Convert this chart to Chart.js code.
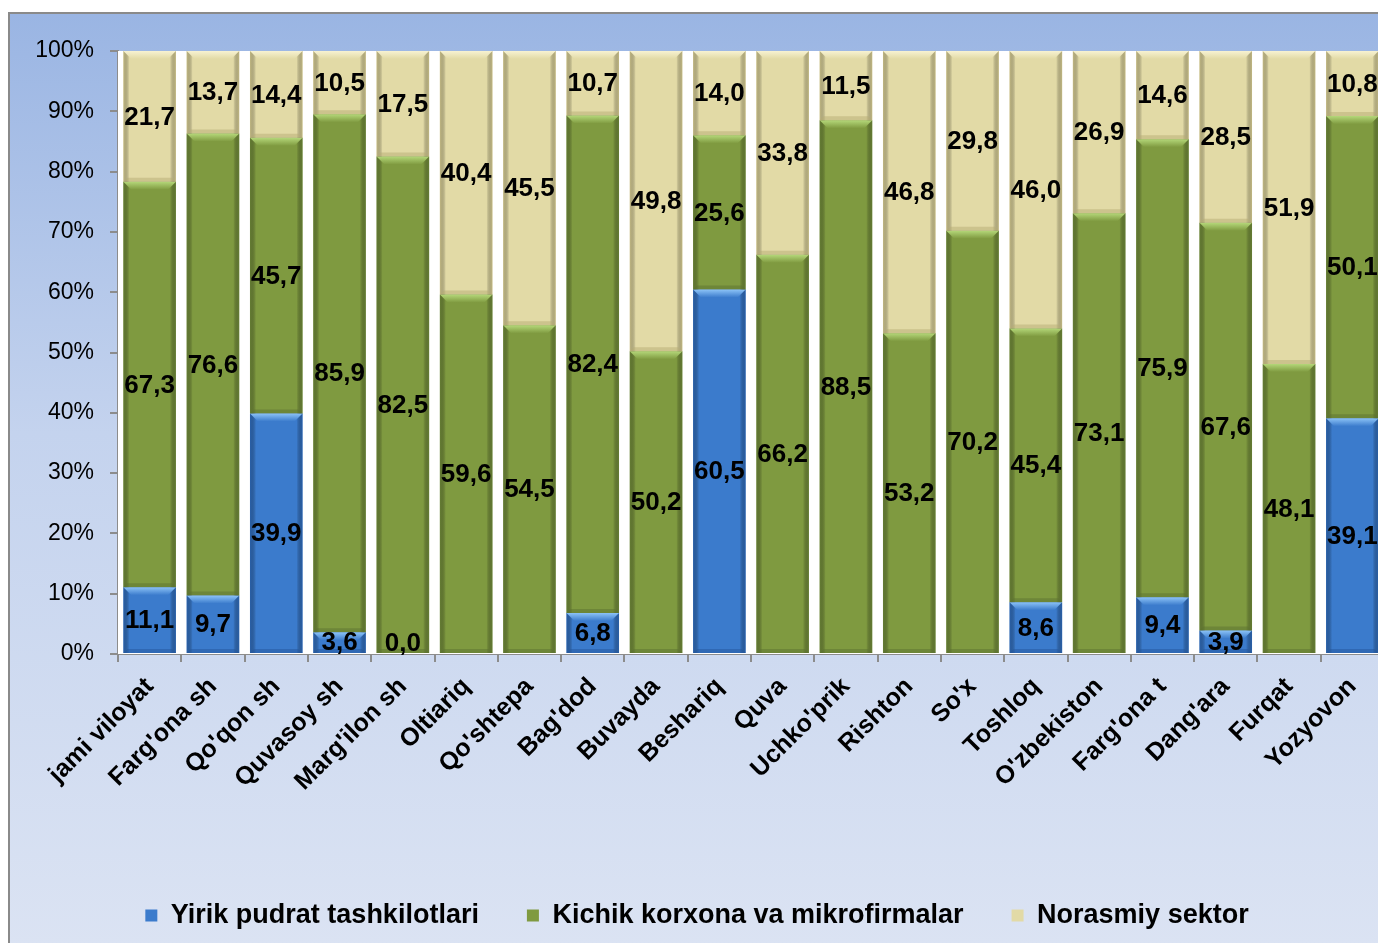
<!DOCTYPE html>
<html>
<head>
<meta charset="utf-8">
<script src="https://cdn.jsdelivr.net/npm/chart.js@4.4.1/dist/chart.umd.min.js"></script>
<style>
  html, body { margin: 0; padding: 0; background: #fff; overflow: hidden; }
  body { width: 1378px; height: 943px; position: relative; }
  .frame {
    position: absolute; left: 8px; top: 12px; width: 1374px; height: 932px;
    border-left: 2px solid #8a8a8a; border-top: 2px solid #8a8a8a;
    background: linear-gradient(to bottom, #9ab5e3 0%, #c4d3ee 45%, #dbe3f3 100%);
  }
  .frame canvas { display: block; }
</style>
</head>
<body>
<div class="frame"><canvas id="chart" width="1374" height="931"></canvas></div>
<script>
// ------------------ Data ------------------
const categories = ["jami viloyat", "Farg'ona sh", "Qo'qon sh", "Quvasoy sh", "Marg'ilon sh", "Oltiariq",
  "Qo'shtepa", "Bag'dod", "Buvayda", "Beshariq", "Quva", "Uchko'prik", "Rishton", "So'x", "Toshloq",
  "O'zbekiston", "Farg'ona t", "Dang'ara", "Furqat", "Yozyovon"];

const yirikPudrat = [11.1, 9.7, 39.9, 3.6, 0.0, null, null, 6.8, null, 60.5, null, null, null, null, 8.6, null, 9.4, 3.9, null, 39.1];
const kichikKorxona = [67.3, 76.6, 45.7, 85.9, 82.5, 59.6, 54.5, 82.4, 50.2, 25.6, 66.2, 88.5, 53.2, 70.2, 45.4, 73.1, 75.9, 67.6, 48.1, 50.1];
const norasmiySektor = [21.7, 13.7, 14.4, 10.5, 17.5, 40.4, 45.5, 10.7, 49.8, 14.0, 33.8, 11.5, 46.8, 29.8, 46.0, 26.9, 14.6, 28.5, 51.9, 10.8];

const seriesNames = ['Yirik pudrat tashkilotlari', 'Kichik korxona va mikrofirmalar', 'Norasmiy sektor'];
const yTicks = [0, 10, 20, 30, 40, 50, 60, 70, 80, 90, 100];

// colours: base, light (top bevel), dark (edges)
const palette = [
  { base: '#3b7bcc', light: '#8cc3f7', dark: '#23569b' },
  { base: '#7f9a40', light: '#b4d779', dark: '#5b7230' },
  { base: '#e2daa6', light: '#f7f2d2', dark: '#b5ab74' }
];

const FONT = "'Liberation Sans', Arial, sans-serif";

// stack each column to 100%
const raw = [yirikPudrat, kichikKorxona, norasmiySektor];
const totals = categories.map((c, i) => raw.reduce((s, arr) => s + (arr[i] || 0), 0));
const shares = raw.map(arr => arr.map((v, i) => v === null ? null : v / totals[i] * 100));

// ------------------ Plugins ------------------
// white plot area
const plotBg = {
  id: 'plotBg',
  beforeDatasetsDraw(chart) {
    const { ctx, chartArea: a } = chart;
    ctx.save();
    ctx.fillStyle = '#ffffff';
    ctx.fillRect(a.left, a.top, a.right - a.left, a.bottom - a.top);
    ctx.restore();
  }
};

// bevel look on every bar segment
const bevel = {
  id: 'bevel',
  afterDatasetsDraw(chart) {
    const ctx = chart.ctx;
    chart.data.datasets.forEach((ds, di) => {
      const col = palette[di];
      chart.getDatasetMeta(di).data.forEach((bar, i) => {
        if (ds.data[i] === null) return;
        const w = bar.width;
        const l = bar.x - w / 2, r = bar.x + w / 2;
        const t = Math.min(bar.y, bar.base), b = Math.max(bar.y, bar.base);
        const h = b - t;
        if (h < 2) return;
        const bv = Math.min(8, h / 2);
        ctx.save();
        // side shading
        let g = ctx.createLinearGradient(l, 0, l + 6, 0);
        g.addColorStop(0, col.dark);
        g.addColorStop(1, 'rgba(0,0,0,0)');
        ctx.globalAlpha = 0.7;
        ctx.fillStyle = g;
        ctx.fillRect(l, t, 6, h);
        g = ctx.createLinearGradient(r - 6, 0, r, 0);
        g.addColorStop(0, 'rgba(0,0,0,0)');
        g.addColorStop(1, col.dark);
        ctx.fillStyle = g;
        ctx.fillRect(r - 6, t, 6, h);
        ctx.globalAlpha = 1;
        // top bevel
        g = ctx.createLinearGradient(0, t, 0, t + bv);
        g.addColorStop(0, col.light);
        g.addColorStop(1, col.base);
        ctx.fillStyle = g;
        ctx.beginPath();
        ctx.moveTo(l, t);
        ctx.lineTo(r, t);
        ctx.lineTo(r - bv, t + bv);
        ctx.lineTo(l + bv, t + bv);
        ctx.closePath();
        ctx.fill();
        // bottom bevel
        const bb = Math.min(4, h / 4);
        ctx.globalAlpha = 0.5;
        ctx.fillStyle = col.dark;
        ctx.beginPath();
        ctx.moveTo(l, b);
        ctx.lineTo(r, b);
        ctx.lineTo(r - bb, b - bb);
        ctx.lineTo(l + bb, b - bb);
        ctx.closePath();
        ctx.fill();
        ctx.restore();
      });
    });
  }
};

// value labels in each segment
const valueLabels = {
  id: 'valueLabels',
  afterDatasetsDraw(chart) {
    const ctx = chart.ctx;
    ctx.save();
    ctx.font = 'bold 26px ' + FONT;
    ctx.fillStyle = '#000';
    ctx.textAlign = 'center';
    ctx.textBaseline = 'middle';
    chart.data.datasets.forEach((ds, di) => {
      chart.getDatasetMeta(di).data.forEach((bar, i) => {
        const v = raw[di][i];
        if (v === null) return;
        let y = (bar.y + bar.base) / 2;
        y = Math.min(y, bar.base - 11);
        ctx.fillText(v.toFixed(1).replace('.', ','), bar.x, y + 1);
      });
    });
    ctx.restore();
  }
};

// ------------------ Chart ------------------
new Chart(document.getElementById('chart'), {
  type: 'bar',
  data: {
    labels: categories,
    datasets: shares.map((arr, di) => ({
      label: seriesNames[di],
      data: arr,
      backgroundColor: palette[di].base,
      borderWidth: 0,
      barPercentage: 0.83,
      categoryPercentage: 1
    }))
  },
  options: {
    responsive: false,
    animation: false,
    layout: { padding: { top: 37, left: 0, right: 0, bottom: 6 } },
    plugins: {
      tooltip: { enabled: false },
      legend: {
        position: 'bottom',
        labels: {
          boxWidth: 12,
          boxHeight: 12,
          padding: 48,
          color: '#000',
          font: { family: FONT, size: 27, weight: 'bold' }
        }
      }
    },
    scales: {
      x: {
        stacked: true,
        afterFit(s) { s.height = 200; },
        border: { color: '#8c8c8c', width: 2 },
        grid: { offset: true, drawOnChartArea: false, tickLength: 8, color: '#8c8c8c', lineWidth: 2 },
        ticks: {
          autoSkip: false, minRotation: 45, maxRotation: 45, color: '#000', padding: 10,
          font: { family: FONT, size: 25, weight: 'bold' }
        }
      },
      y: {
        stacked: true,
        min: 0, max: 100,
        afterFit(s) { s.width = 108; },
        afterBuildTicks(s) { s.ticks = yTicks.map(v => ({ value: v })); },
        border: { color: '#8c8c8c', width: 2 },
        grid: { drawOnChartArea: false, tickLength: 8, color: '#8c8c8c', lineWidth: 2 },
        ticks: {
          color: '#000', padding: 16,
          font: { family: FONT, size: 23 },
          callback: v => v + '%'
        }
      }
    }
  },
  plugins: [plotBg, bevel, valueLabels]
});
</script>
</body>
</html>
